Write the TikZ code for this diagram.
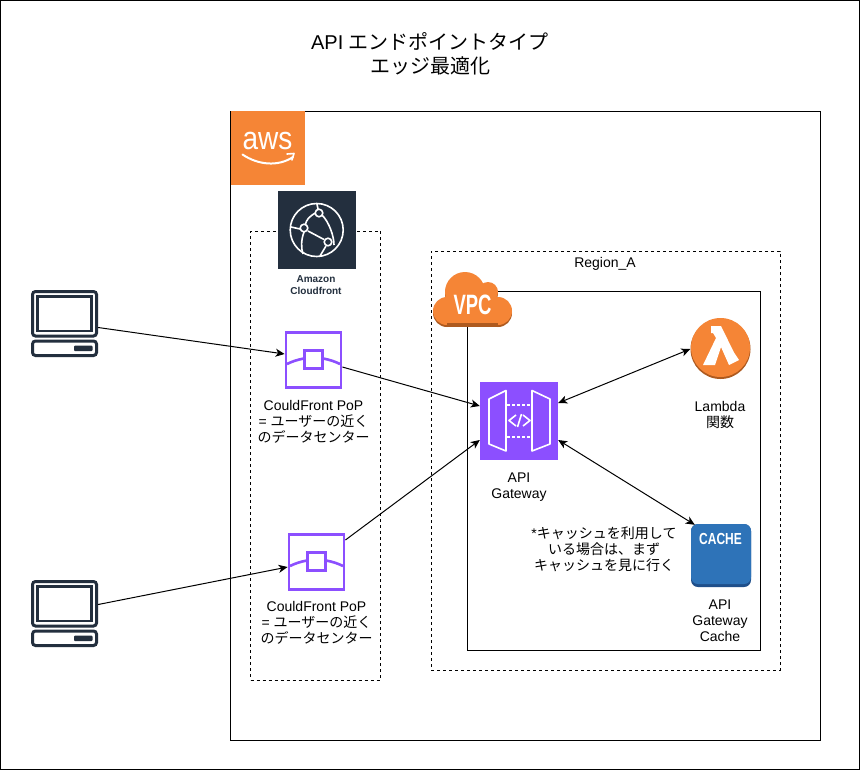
\documentclass[tikz,border=0pt]{standalone}
\usepackage{fontspec}
\setmainfont{Liberation Sans}
\newfontfamily\jpf{Noto Sans CJK JP}
\usetikzlibrary{arrows.meta,calc}
\definecolor{awsorange}{HTML}{F58536}
\definecolor{awsdark}{HTML}{AE5A1F}
\definecolor{awsnavy}{HTML}{232F3E}
\definecolor{awspurple}{HTML}{8C4FFF}
\definecolor{cacheblue}{HTML}{2E73B8}
\definecolor{cachedark}{HTML}{1F4F8A}
\newcommand{\J}[1]{{\jpf #1}}
\newcommand{\cloudshape}[2]{%
  \fill[#1] (465,292+#2) circle (20);
  \fill[#1] (488,292+#2) circle (10);
  \fill[#1] (447,311+#2) circle (14);
  \fill[#1] (498,311+#2) circle (14);
  \fill[#1] (447,300+#2) rectangle (498,325+#2);
}
\tikzset{
  box/.style={draw=black,line width=1pt,inner sep=0pt,fill=white},
  dashbox/.style={draw=black,line width=1pt,dash pattern=on 3pt off 3pt,inner sep=0pt},
  lbl/.style={align=center,inner sep=0pt,font=\fontsize{14}{16}\selectfont},
  conn/.style={draw=black,line width=1pt,-{Stealth[length=9pt,width=8pt,inset=2.5pt]}},
  conntwo/.style={draw=black,line width=1pt,{Stealth[length=9pt,width=8pt,inset=2.5pt]}-{Stealth[length=9pt,width=8pt,inset=2.5pt]}},
  popbox/.style={draw=awspurple,line width=2.8pt,fill=white,inner sep=0pt,minimum width=55pt,minimum height=55pt},
  popinner/.style={draw=awspurple,line width=2.6pt,fill=white,inner sep=0pt,minimum size=18pt},
  poparc/.style={draw=awspurple,line width=2.6pt},
  iconw/.style={draw=white,line width=1.6pt,line join=round},
  pcline/.style={draw=awsnavy,line width=3pt,rounded corners=3pt,fill=white,inner sep=0pt},
}
\begin{document}
\begin{tikzpicture}[x=1pt,y=-1pt]
\useasboundingbox (0,0) rectangle (861,771);
% frames
\node[box,minimum width=859pt,minimum height=769pt] (outer) at (430,385) {};
\node[box,minimum width=590pt,minimum height=629pt] (aws) at (525.5,425.5) {};
\node[dashbox,minimum width=130pt,minimum height=449pt] (edge) at (315.5,455.5) {};
\node[dashbox,minimum width=349pt,minimum height=419pt] (region) at (605.5,460.5) {};
\node[draw=black,line width=1pt,inner sep=0pt,minimum width=293pt,minimum height=359pt] (vpc) at (613.5,470.5) {};
% title
\node[align=center,inner sep=0pt,font=\fontsize{20}{24}\selectfont] (title) at (430,54) {API \J{エンドポイントタイプ}\\\J{エッジ最適化}};
% AWS logo
\node[fill=awsorange,inner sep=0pt,minimum size=74pt] (awslogo) at (268,148) {};
\node[text=white,inner sep=0pt,font=\fontsize{28}{28}\selectfont] (awstext) at (267.5,141) {\scalebox{1}[1.15]{aws}};
\draw[white,line width=2pt,line cap=round] (242.5,154.5) .. controls (258,165) and (278,167) .. (293,157);
\draw[white,line width=1.6pt,line cap=round,line join=round] (287,154) -- (294,153.5) -- (292,160);
% Cloudfront
\node[fill=awsnavy,inner sep=0pt,minimum size=78pt] (cf) at (317,230) {};
\draw[iconw] (316.7,230) circle (26.5);
\draw[iconw] (315.7,213) .. controls (309,216) and (306,221) .. (305.5,224);
\draw[iconw] (322,215) .. controls (329,222) and (334,236) .. (334,245);
\draw[iconw] (308,231) -- (324,239.5);
\draw[iconw] (304,232) .. controls (301,240) and (301,248) .. (303,254);
\draw[iconw] (300,229) -- (291,227);
\draw[iconw] (318,209) -- (317,204);
\draw[iconw] (326,246) -- (320,256);
\draw[iconw] (319,213) circle (3.8);
\draw[iconw] (304,228) circle (3.8);
\draw[iconw] (328,242) circle (3.8);
\node[lbl,text=awsnavy,font=\fontsize{10}{11.7}\selectfont\bfseries] (cflabel) at (316,285) {Amazon\\Cloudfront};
% PoP 1
\node[popbox] (pop1) at (313.5,360) {};
\draw[poparc] (287,364) .. controls (292,361.5) and (298,359.5) .. (304,358.5);
\draw[poparc] (323,358.5) .. controls (329,359.5) and (335,361.5) .. (340,364);
\node[popinner] (pop1in) at (313.5,359.5) {};
\node[lbl] (pop1lbl) at (313.5,422) {CouldFront PoP\\= \J{ユーザーの近く}\\\J{のデータセンター}};
% PoP 2
\node[popbox] (pop2) at (316.5,562) {};
\draw[poparc] (290,566) .. controls (295,563.5) and (301,561.5) .. (307,560.5);
\draw[poparc] (326,560.5) .. controls (332,561.5) and (338,563.5) .. (343,566);
\node[popinner] (pop2in) at (316.5,561.5) {};
\node[lbl] (pop2lbl) at (316.5,623) {CouldFront PoP\\= \J{ユーザーの近く}\\\J{のデータセンター}};
% Computers
\foreach \n/\dy in {c1/0,c2/290}{
  \node[inner sep=0pt,minimum width=67pt,minimum height=67pt] (\n) at (64.5,323.5+\dy) {};
  \draw[pcline] (32.5,291.5+\dy) rectangle (96.5,336+\dy);
  \draw[awsnavy,line width=2.6pt] (37.5,296.5+\dy) rectangle (91.5,331+\dy);
  \draw[pcline] (32.5,341+\dy) rectangle (96.5,355.5+\dy);
  \fill[awsnavy,rounded corners=1pt] (74,345.5+\dy) rectangle (92.5,351+\dy);
}
% VPC cloud
\cloudshape{awsdark}{2}
\cloudshape{awsorange}{0}
\fill[awsdark] (447,323.2) rectangle (498,327);
\fill[awsorange] (447,300) rectangle (498,323.2);
\node[text=white,inner sep=0pt,font=\fontsize{28}{28}\selectfont\bfseries] (vpclogo) at (472.5,305) {\scalebox{0.66}[1]{VPC}};
\node[lbl] (regionlbl) at (605,264) {Region\_A};
% API Gateway
\node[fill=awspurple,inner sep=0pt,minimum width=78pt,minimum height=78pt] (gw) at (519,420.5) {};
\draw[iconw] (489,399) -- (506,390.5) -- (506,451) -- (489,444) -- cycle;
\draw[iconw] (532,390.5) -- (550,399) -- (550,444) -- (532,451) -- cycle;
\draw[white,line width=1.6pt,dash pattern=on 3pt off 2pt] (507,405) -- (531,405);
\draw[white,line width=1.6pt,dash pattern=on 3pt off 2pt] (507,437) -- (531,437);
\draw[iconw] (516,415) -- (509,420.5) -- (516,426);
\draw[iconw] (523,415) -- (530,420.5) -- (523,426);
\draw[iconw] (517.5,427) -- (521.5,414);
\node[lbl] (gwlbl) at (519,487.5) {API\\Gateway};
% Lambda
\node[circle,fill=awsdark,inner sep=0pt,minimum size=60pt] (lam) at (720.5,349) {};
\fill[awsorange] (720.5,347.5) circle (29.5);
\fill[white] (711,326) -- (721,326) -- (734,352.5) -- (739,360) -- (729,365) -- (721,347) -- (715,365) -- (703,365) -- (716,338) -- (713,333) -- (711,333) -- cycle;
\node[lbl] (lamlbl) at (720,415) {Lambda\\\J{関数}};
% Cache
\node[fill=cachedark,rounded corners=7pt,inner sep=0pt,minimum width=60pt,minimum height=63pt] (cache) at (721,555.5) {};
\fill[cacheblue,rounded corners=7pt] (691,524) rectangle (751,584);
\node[text=white,inner sep=0pt,font=\fontsize{16}{16}\selectfont\bfseries] (cachetext) at (720.5,538.5) {\scalebox{0.75}[1]{CACHE}};
\node[lbl] (cachelbl) at (720,620.5) {API\\Gateway\\Cache};
\node[lbl] (note) at (604,549) {*\J{キャッシュを利用して}\\\J{いる場合は、まず}\\\J{キャッシュを見に行く}};
% connectors
\draw[conn] ($(c1.east)+(0,4)$) -- ($(pop1.west)+(0,-6)$);
\draw[conn] ($(c2.east)+(0,-9)$) -- ($(pop2.west)+(0,5)$);
\draw[conn] ($(pop1.east)+(0,7)$) -- ($(gw.west)+(0,-14.5)$);
\draw[conn] ($(pop2.east)+(0,-22)$) -- ($(gw.west)+(0,19.5)$);
\draw[conntwo] ($(gw.east)+(0,-17.5)$) -- (lam.west);
\draw[conntwo] ($(gw.east)+(0,19.5)$) -- ($(cache.north west)+(4,1)$);
\end{tikzpicture}
\end{document}
